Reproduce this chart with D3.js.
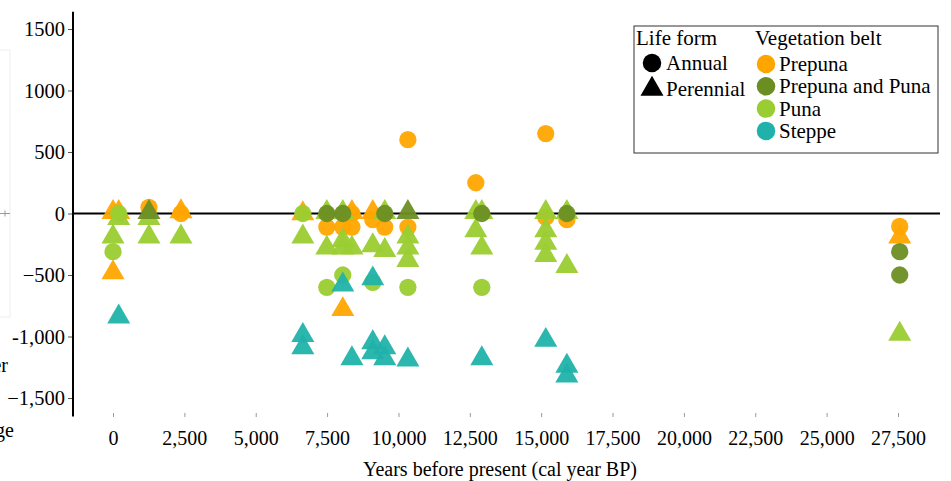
<!DOCTYPE html>
<html>
<head>
<meta charset="utf-8">
<script src="https://cdn.jsdelivr.net/npm/d3@7"></script>
<style>
  body { margin: 0; background: #fff; }
  text { font-family: "Liberation Serif", "DejaVu Serif", serif; fill: #000; }
</style>
</head>
<body>
<div id="chart"></div>
<script>
// chart size
var svgWidth = 951;
var svgHeight = 481;

// tick values and labels
var xTicks = [0, 2500, 5000, 7500, 10000, 12500, 15000, 17500, 20000, 22500, 25000, 27500];
var xTickLabels = ["0", "2,500", "5,000", "7,500", "10,000", "12,500", "15,000", "17,500", "20,000", "22,500", "25,000", "27,500"];
var yTicks = [1500, 1000, 500, 0, -500, -1000, -1500];
var yTickLabels = ["1500", "1000", "500", "0", "\u2212500", "-1,000", "\u22121,500"];

// legend categories
var belts = ["Prepuna", "Prepuna and Puna", "Puna", "Steppe"];
var beltColors = ["#FFA500", "#6B8E23", "#9ACD32", "#20B2AA"];
var forms = ["Annual", "Perennial"];

// data: [years BP, change]
var prepunaAnnual = [[1260, 50], [2380, 0], [7490, -110], [8050, -110], [8370, 0], [8370, -110],
  [9100, -50], [9520, -110], [10330, -110], [10330, 600], [12710, 250], [15160, -30], [15160, 650],
  [15900, -50], [27560, -105]];
var prepunaPerennial = [[0, 10], [200, 10], [0, -480], [2380, 15], [6650, 0], [8050, -780],
  [8370, 10], [9100, 10], [27560, -190]];
var punaAnnual = [[200, 0], [0, -310], [6650, 0], [7490, -600], [8050, -500], [9100, -560],
  [10330, -600], [12920, -600]];
var punaPerennial = [[200, -40], [0, -190], [1260, -40], [1260, -190], [2380, -190], [6650, -190],
  [7490, 10], [7490, -280], [8050, 10], [8050, -220], [8050, -280], [8370, -280], [9100, -260],
  [9520, 10], [9520, -300], [10330, -190], [10330, -280], [10330, -380], [12710, 10], [12710, -140],
  [12920, 10], [12920, -280], [15160, 10], [15160, -140], [15160, -240], [15160, -340], [15900, 10],
  [15900, -430], [27560, -980]];
var bothAnnual = [[7490, 0], [8050, 0], [9520, 0], [12920, 0], [15900, 0], [27560, -310], [27560, -500]];
var bothPerennial = [[1260, 10], [10330, 10]];
var steppePerennial = [[200, -840], [6650, -990], [6650, -1090], [8050, -580], [8370, -1180],
  [9100, -530], [9100, -1050], [9100, -1130], [9520, -1090], [9520, -1180], [10330, -1190],
  [12920, -1180], [15160, -1030], [15900, -1240], [15900, -1320]];

// drawing order
var groups = [
  {belt: "Prepuna", form: "Perennial", pts: prepunaPerennial},
  {belt: "Prepuna", form: "Annual", pts: prepunaAnnual},
  {belt: "Puna", form: "Annual", pts: punaAnnual},
  {belt: "Puna", form: "Perennial", pts: punaPerennial},
  {belt: "Prepuna and Puna", form: "Annual", pts: bothAnnual},
  {belt: "Prepuna and Puna", form: "Perennial", pts: bothPerennial},
  {belt: "Steppe", form: "Perennial", pts: steppePerennial}
];

var svg = d3.select("#chart")
  .append("svg")
  .attr("width", svgWidth)
  .attr("height", svgHeight);

var x = d3.scaleLinear().domain([0, 27500]).range([113, 898]);
var y = d3.scaleLinear().domain([-1500, 1500]).range([398, 29]);
var color = d3.scaleOrdinal().domain(belts).range(beltColors);

// faint remnants at the left edge
svg.append("rect")
  .attr("x", -20).attr("y", 50).attr("width", 30).attr("height", 267)
  .attr("fill", "none").attr("stroke", "#eee");
svg.append("path")
  .attr("d", "M0," + y(0) + "H10M5," + (y(0) - 3) + "V" + (y(0) + 3))
  .attr("stroke", "#999").attr("fill", "none");
svg.append("text").attr("x", 8).attr("y", 372).attr("text-anchor", "end")
  .style("font-size", "20px").text("upper");
svg.append("text").attr("x", 14).attr("y", 437).attr("text-anchor", "end")
  .style("font-size", "20px").text("range");

// y axis
var yAxis = svg.append("g")
  .attr("transform", "translate(73,0)")
  .call(d3.axisLeft(y).tickValues(yTicks).tickSize(5).tickPadding(3)
    .tickFormat((d, i) => yTickLabels[i]));
yAxis.select(".domain").remove();
yAxis.selectAll("line").attr("stroke", "#555");
yAxis.selectAll("text").style("font-size", "20.5px").attr("font-family", null);
svg.append("line")
  .attr("x1", 73).attr("x2", 73)
  .attr("y1", y(1640)).attr("y2", y(-1650))
  .attr("stroke", "#000").attr("stroke-width", 2);

// x axis
var xAxis = svg.append("g")
  .attr("transform", "translate(0,413)")
  .call(d3.axisBottom(x).tickValues(xTicks).tickSize(4).tickPadding(14)
    .tickFormat((d, i) => xTickLabels[i]));
xAxis.select(".domain").remove();
xAxis.selectAll("line").attr("stroke", "#999");
xAxis.selectAll("text").style("font-size", "20px").attr("font-family", null);

// zero line
svg.append("line")
  .attr("x1", 73).attr("x2", 940)
  .attr("y1", y(0)).attr("y2", y(0))
  .attr("stroke", "#000").attr("stroke-width", 2);

// points
var circleSym = d3.symbol().type(d3.symbolCircle).size(235);
var triSym = d3.symbol().type(d3.symbolTriangle).size(230);

groups.forEach(function(g) {
  svg.append("g").selectAll("path")
    .data(g.pts)
    .join("path")
    .attr("d", g.form == "Annual" ? circleSym : triSym)
    .attr("transform", d => `translate(${x(d[0])},${y(d[1])})`)
    .attr("fill", color(g.belt))
    .attr("opacity", 0.95);
});

// legend
var legendCircle = d3.symbol().type(d3.symbolCircle).size(270);
var legend = svg.append("g");
legend.append("rect")
  .attr("x", 634).attr("y", 26).attr("width", 304).attr("height", 127)
  .attr("fill", "#fff").attr("stroke", "#333");
legend.append("text").attr("x", 636).attr("y", 45).style("font-size", "21px").text("Life form");
legend.append("text").attr("x", 755).attr("y", 45).style("font-size", "21px").text("Vegetation belt");

legend.selectAll(".lf")
  .data(forms)
  .join("g")
  .attr("transform", (d, i) => `translate(652,${63 + i * 26})`)
  .each(function(d) {
    d3.select(this).append("path")
      .attr("d", d == "Annual" ? legendCircle : triSym)
      .attr("fill", "#000");
    d3.select(this).append("text")
      .attr("x", 14).attr("y", 7)
      .style("font-size", "21px").text(d);
  });

legend.selectAll(".vb")
  .data(belts)
  .join("g")
  .attr("transform", (d, i) => `translate(766,${64 + i * 22.3})`)
  .each(function(d) {
    d3.select(this).append("path")
      .attr("d", legendCircle)
      .attr("fill", color(d));
    d3.select(this).append("text")
      .attr("x", 13).attr("y", 7)
      .style("font-size", "21px").text(d);
  });

// axis title
svg.append("text")
  .attr("x", 500).attr("y", 476)
  .attr("text-anchor", "middle")
  .style("font-size", "20px")
  .text("Years before present (cal year BP)");
</script>
</body>
</html>
